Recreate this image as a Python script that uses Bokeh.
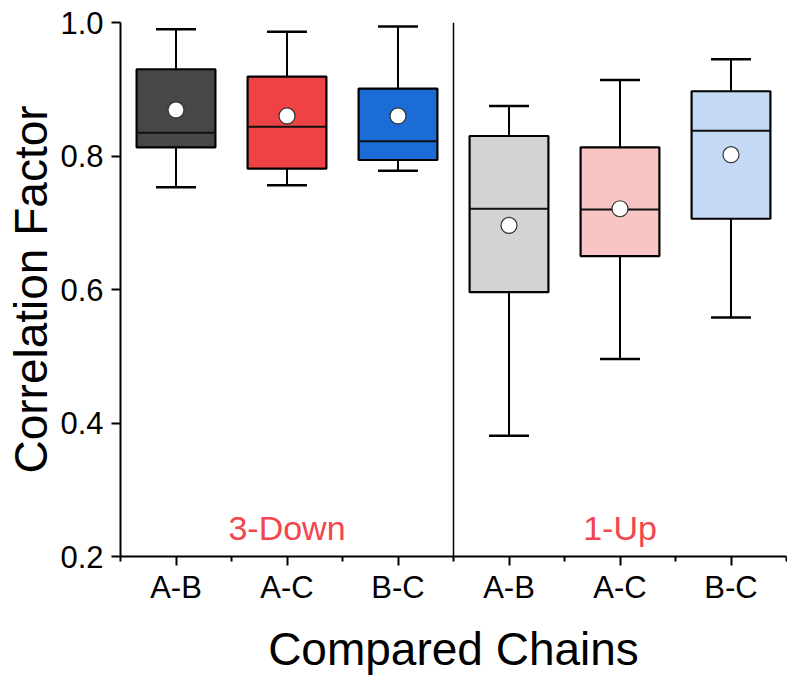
from bokeh.plotting import figure
from bokeh.models import ColumnDataSource, Range1d, FixedTicker, Label, Span
from bokeh.embed import file_html
from bokeh.resources import INLINE

# ---- data ----
pairs = ["A-B", "A-C", "B-C", "A-B", "A-C", "B-C"]
groups = ["3-Down", "1-Up"]
whisker_hi = [0.990, 0.986, 0.994, 0.875, 0.914, 0.945]
q3 = [0.930, 0.919, 0.901, 0.830, 0.813, 0.897]
median = [0.835, 0.844, 0.822, 0.721, 0.720, 0.838]
q1 = [0.813, 0.781, 0.794, 0.596, 0.650, 0.706]
whisker_lo = [0.753, 0.756, 0.778, 0.381, 0.496, 0.558]
mean = [0.869, 0.860, 0.860, 0.696, 0.721, 0.802]
colors = ["#474747", "#ef4244", "#1c6cd8", "#d3d3d3", "#f8c4c4", "#c4daf4"]
y_ticks = [0.2, 0.4, 0.6, 0.8, 1.0]

FONT = "Liberation Sans"
BOX_W = 0.71
CAP_W = 0.36

xs = list(range(1, len(pairs) + 1))
src = ColumnDataSource(dict(
    x=xs,
    q1=q1, q3=q3, med=median, hi=whisker_hi, lo=whisker_lo, mean=mean,
    color=colors,
    bl=[x - BOX_W / 2 for x in xs], br=[x + BOX_W / 2 for x in xs],
    cl=[x - CAP_W / 2 for x in xs], cr=[x + CAP_W / 2 for x in xs],
))

p = figure(width=787, height=678, output_backend="svg", toolbar_location=None,
           x_range=Range1d(0.5, 6.5), y_range=Range1d(0.2, 1.0),
           min_border_left=120, min_border_top=22, min_border_right=1,
           min_border_bottom=122)
p.outline_line_color = None
p.xgrid.visible = False
p.ygrid.visible = False
p.background_fill_color = "white"

# whiskers
p.segment(x0="x", y0="q3", x1="x", y1="hi", source=src, line_color="black", line_width=2)
p.segment(x0="x", y0="q1", x1="x", y1="lo", source=src, line_color="black", line_width=2)
p.segment(x0="cl", y0="hi", x1="cr", y1="hi", source=src, line_color="black", line_width=2.5)
p.segment(x0="cl", y0="lo", x1="cr", y1="lo", source=src, line_color="black", line_width=2.5)
# boxes
p.vbar(x="x", width=BOX_W, top="q3", bottom="q1", source=src,
       fill_color="color", line_color="black", line_width=2.2)
# medians
p.segment(x0="bl", y0="med", x1="br", y1="med", source=src, line_color="#111111", line_width=2)
# means
p.scatter(x="x", y="mean", source=src, size=16, marker="circle",
          fill_color="white", line_color="#333333", line_width=1.2)

# divider between groups
p.add_layout(Span(location=3.5, dimension="height", line_color="black", line_width=1.5))

# group labels
for gi, g in enumerate(groups):
    p.add_layout(Label(x=2 + 3 * gi, y=0.242, text=g, text_align="center",
                       text_baseline="middle", text_color="#f2454d",
                       text_font=FONT, text_font_size="34px"))

# axes
p.xaxis.ticker = FixedTicker(ticks=xs, minor_ticks=[x + 0.5 for x in range(0, 7)])
p.xaxis.major_label_overrides = {x: lab for x, lab in zip(xs, pairs)}
p.yaxis.ticker = FixedTicker(ticks=y_ticks, minor_ticks=[])
p.yaxis.major_label_overrides = {v: f"{v:.1f}" for v in y_ticks}

for ax in (p.xaxis[0], p.yaxis[0]):
    ax.axis_line_color = "black"
    ax.axis_line_width = 2
    ax.major_tick_line_color = "black"
    ax.major_tick_line_width = 2
    ax.major_tick_in = 0
    ax.major_tick_out = 9
    ax.minor_tick_line_color = "black"
    ax.minor_tick_line_width = 2
    ax.minor_tick_in = 0
    ax.minor_tick_out = 5
    ax.major_label_text_font = FONT
    ax.major_label_text_font_size = "31px"
    ax.major_label_text_color = "black"
    ax.axis_label_text_font = FONT
    ax.axis_label_text_font_size = "46px"
    ax.axis_label_text_font_style = "normal"
    ax.axis_label_text_color = "black"

p.xaxis.axis_label = "Compared Chains"
p.yaxis.axis_label = "Correlation Factor"
p.xaxis.major_label_standoff = 4
p.xaxis.axis_label_standoff = 15
p.yaxis.major_label_standoff = 8
p.yaxis.axis_label_standoff = 0

open("out.html", "w").write(file_html(p, INLINE))
